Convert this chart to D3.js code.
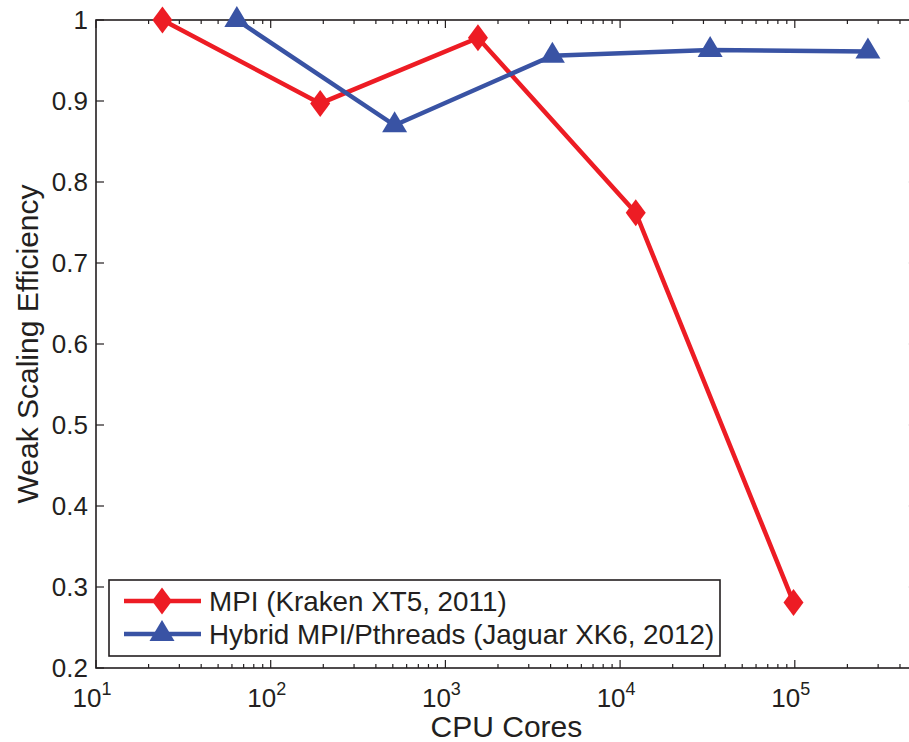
<!DOCTYPE html>
<html><head><meta charset="utf-8">
<script src="https://cdn.jsdelivr.net/npm/d3@7"></script>
<style>
body{margin:0;background:#fff;}
svg text{font-family:"Liberation Sans",Arial,Helvetica,sans-serif;fill:#231f20;}
</style></head>
<body><svg id="c" width="909" height="742"></svg>
<script>
const mpiCores = [24, 192, 1536, 12288, 98304];
const mpiEff   = [1.0, 0.897, 0.978, 0.762, 0.281];
const hybCores = [64, 512, 4096, 32768, 262144];
const hybEff   = [1.0, 0.870, 0.956, 0.963, 0.961];
const yTicks = [0.2,0.3,0.4,0.5,0.6,0.7,0.8,0.9,1];
const xTickExps = [1,2,3,4,5,6];
const seriesNames = ["MPI (Kraken XT5, 2011)", "Hybrid MPI/Pthreads (Jaguar XK6, 2012)"];
const red = "#ed1c24", blue = "#3953a4", axisCol = "#231f20";

const svg = d3.select("#c");
const L = 96, T = 20, B = 668;
const x = d3.scaleLog().domain([10, 5e5]).range([L, L + 174.7*Math.log10(5e4)]);
const y = d3.scaleLinear().domain([0.2, 1]).range([B, T]);
const R = x.range()[1];

const ax = svg.append("g").attr("stroke", axisCol).attr("stroke-width", 1.6).attr("fill","none");
ax.append("rect").attr("x", L).attr("y", T).attr("width", R - L).attr("height", B - T);

const minor = [];
for (let e = 1; e <= 5; e++) for (let m = 1; m <= 9; m++) minor.push(m * Math.pow(10, e));
minor.forEach(v => {
  const major = v === Math.pow(10, Math.round(Math.log10(v)));
  const len = major ? 8 : 4;
  const px = x(v);
  ax.append("line").attr("x1", px).attr("x2", px).attr("y1", B).attr("y2", B - len).attr("stroke-width", 1.2);
  ax.append("line").attr("x1", px).attr("x2", px).attr("y1", T).attr("y2", T + len).attr("stroke-width", 1.2);
});
yTicks.forEach(v => {
  ax.append("line").attr("x1", L).attr("x2", L + 8).attr("y1", y(v)).attr("y2", y(v)).attr("stroke-width", 1.2);
  ax.append("line").attr("x1", R).attr("x2", R - 8).attr("y1", y(v)).attr("y2", y(v)).attr("stroke-width", 1.2);
});

svg.append("g").selectAll("text").data(yTicks).join("text")
  .attr("x", L - 8).attr("y", d => y(d)).attr("dy", "0.36em")
  .attr("text-anchor", "end").attr("font-size", 26)
  .text(d => d === 1 ? "1" : d.toFixed(1));

const xl = svg.append("g").selectAll("text").data(xTickExps.filter(e => Math.pow(10,e) <= 5e5)).join("text")
  .attr("x", d => x(Math.pow(10, d)) - 4).attr("y", 707)
  .attr("text-anchor", "middle").attr("font-size", 26);
xl.append("tspan").text("10");
xl.append("tspan").attr("font-size", 18).attr("dy", -12).text(d => d);

svg.append("text").attr("x", (L + R) / 2).attr("y", 737).attr("text-anchor", "middle")
  .attr("font-size", 30).text("CPU Cores");
svg.append("text").attr("transform", `translate(38,${(T + B) / 2}) rotate(-90)`)
  .attr("text-anchor", "middle").attr("font-size", 30).text("Weak Scaling Efficiency");

const line = d3.line().x(d => x(d[0])).y(d => y(d[1]));
const mpi = mpiCores.map((c, i) => [c, mpiEff[i]]);
const hyb = hybCores.map((c, i) => [c, hybEff[i]]);
const diamond = "M0,-13.5L10,0L0,13.5L-10,0Z";
const tri = "M0,-14L12.5,7L-12.5,7Z";

svg.append("path").datum(mpi).attr("d", line).attr("fill", "none").attr("stroke", red).attr("stroke-width", 4.5);
svg.append("path").datum(hyb).attr("d", line).attr("fill", "none").attr("stroke", blue).attr("stroke-width", 4.5);
svg.append("g").selectAll("path").data(mpi).join("path")
  .attr("transform", d => `translate(${x(d[0])},${y(d[1])})`).attr("d", diamond).attr("fill", red);
svg.append("g").selectAll("path").data(hyb).join("path")
  .attr("transform", d => `translate(${x(d[0])},${y(d[1])})`).attr("d", tri).attr("fill", blue);

const lg = svg.append("g");
lg.append("rect").attr("x", 109).attr("y", 580).attr("width", 611).attr("height", 76)
  .attr("fill", "#fff").attr("stroke", axisCol).attr("stroke-width", 1.6);
const rows = [{name: seriesNames[0], col: red, sym: diamond, yy: 601},
              {name: seriesNames[1], col: blue, sym: tri, yy: 634}];
rows.forEach(r => {
  lg.append("line").attr("x1", 124).attr("x2", 201).attr("y1", r.yy).attr("y2", r.yy)
    .attr("stroke", r.col).attr("stroke-width", 4.5);
  lg.append("path").attr("transform", `translate(162,${r.yy})`).attr("d", r.sym).attr("fill", r.col);
  lg.append("text").attr("x", 209).attr("y", r.yy).attr("dy", "0.36em").attr("font-size", 27.8).text(r.name);
});
</script></body></html>
